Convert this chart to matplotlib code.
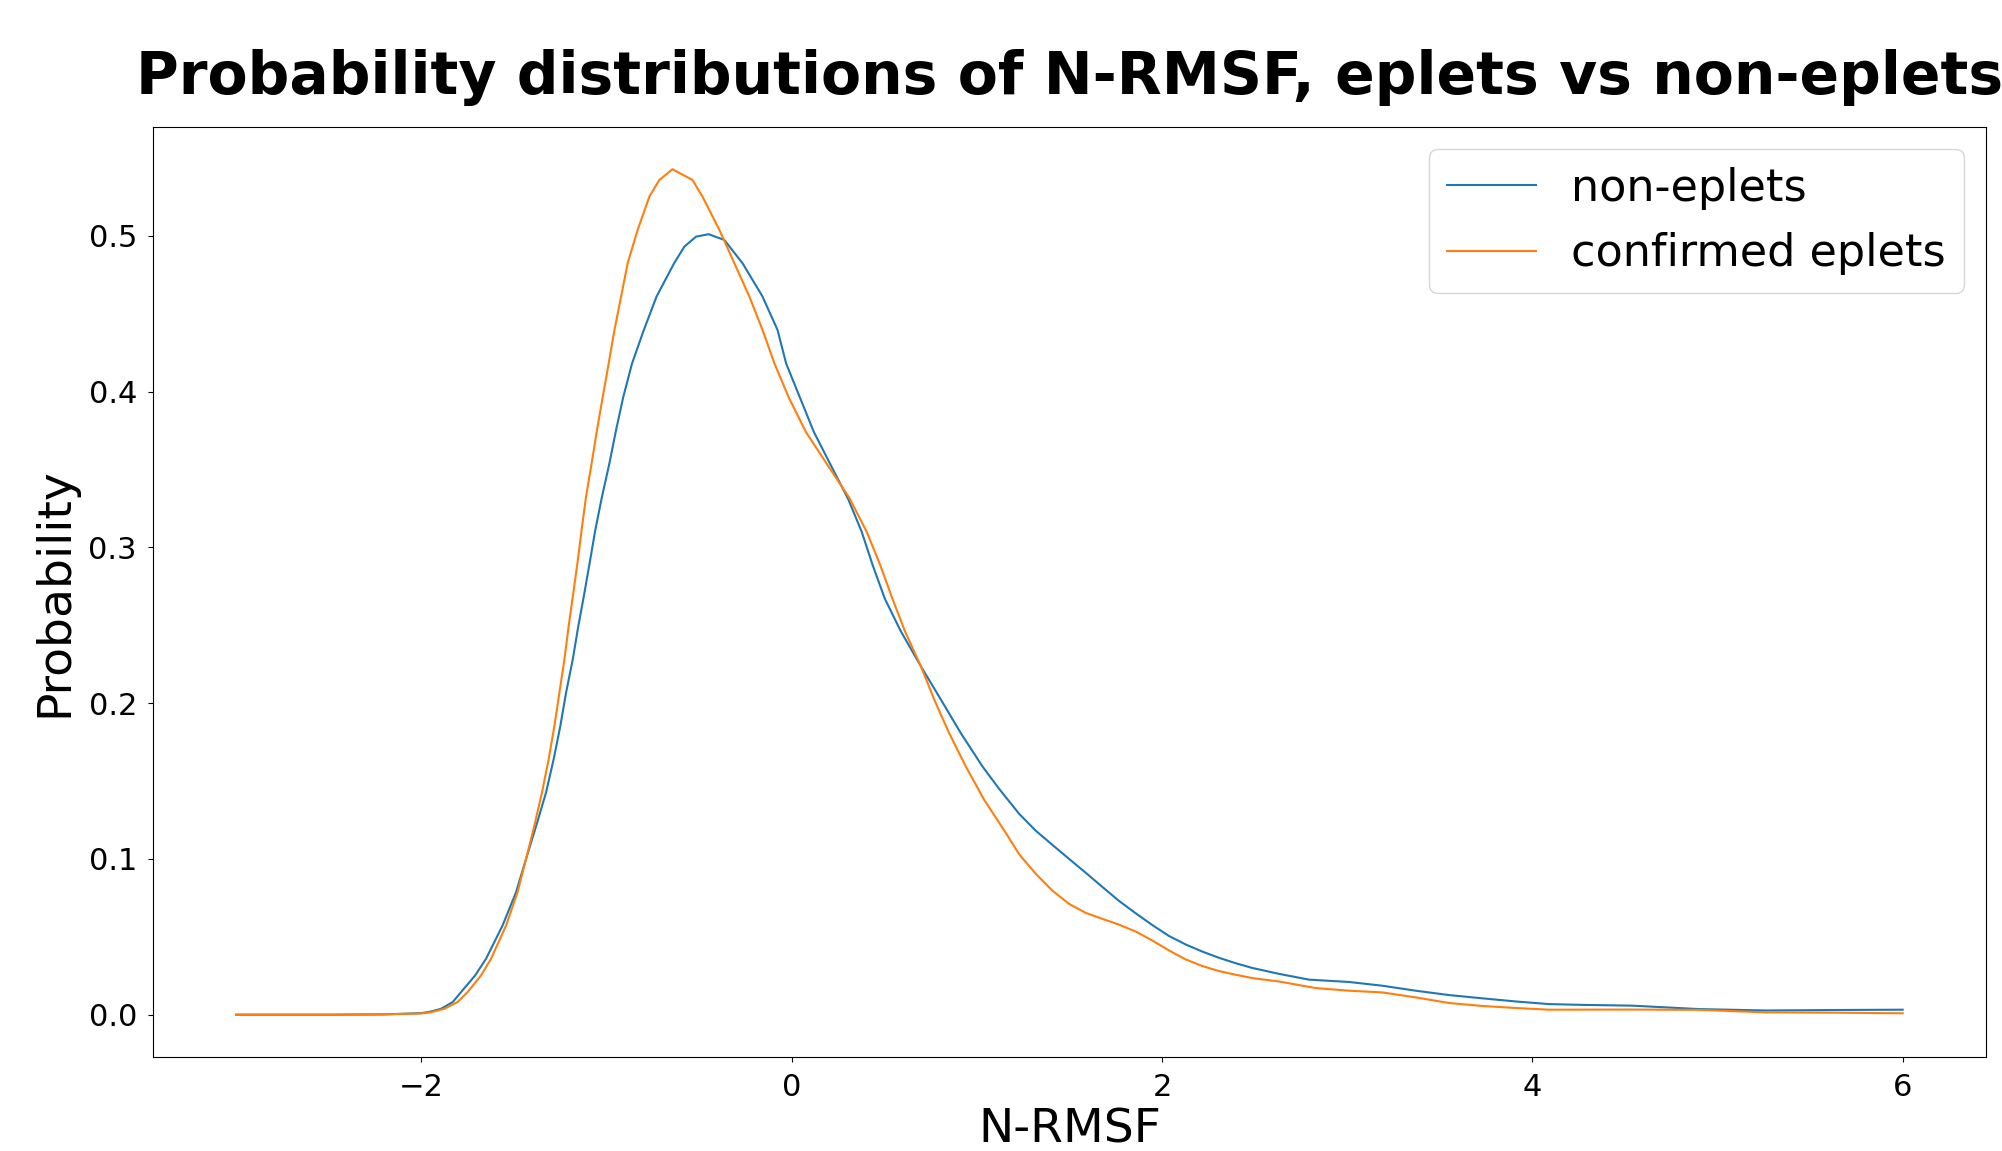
import matplotlib
matplotlib.use("Agg")
import matplotlib.pyplot as plt

# values
x_non = [-3.0, -2.5, -2.2, -2.0, -1.95, -1.894, -1.831, -1.786, -1.71, -1.651,
         -1.562, -1.489, -1.435, -1.38, -1.327, -1.286, -1.25, -1.219, -1.183, -1.153,
         -1.12, -1.09, -1.061, -1.025, -0.985, -0.949, -0.91, -0.863, -0.80, -0.73,
         -0.635, -0.58, -0.517, -0.449, -0.364, -0.266, -0.158, -0.077, -0.03, 0.045,
         0.12, 0.21, 0.305, 0.378, 0.436, 0.503, 0.59, 0.698, 0.806, 0.913,
         1.03, 1.12, 1.228, 1.319, 1.408, 1.498, 1.589, 1.678, 1.768, 1.859,
         1.948, 2.038, 2.129, 2.218, 2.308, 2.399, 2.488, 2.632, 2.794, 3.01,
         3.19, 3.37, 3.55, 3.73, 3.91, 4.09, 4.27, 4.54, 4.9, 5.26,
         5.62, 6.0]
y_non = [0.0, 0.0, 0.0002, 0.001, 0.002, 0.0038, 0.0081, 0.0145, 0.0252, 0.0359,
         0.0572, 0.0786, 0.1, 0.1213, 0.1426, 0.1639, 0.1852, 0.2066, 0.2279, 0.2492,
         0.2706, 0.291, 0.3111, 0.3325, 0.3538, 0.3752, 0.3965, 0.4179, 0.4392, 0.4611,
         0.4825, 0.4931, 0.4995, 0.5011, 0.4974, 0.4825, 0.4611, 0.4397, 0.418, 0.396,
         0.374, 0.353, 0.331, 0.31, 0.289, 0.267, 0.246, 0.2236, 0.2022, 0.1808,
         0.1594, 0.145, 0.129, 0.118, 0.109, 0.1, 0.091, 0.082, 0.073, 0.065,
         0.0575, 0.0505, 0.045, 0.0405, 0.0365, 0.033, 0.03, 0.0262, 0.0225, 0.021,
         0.0186, 0.0154, 0.0126, 0.0105, 0.0085, 0.0068, 0.0063, 0.0058, 0.0036, 0.0027,
         0.003, 0.0032]

x_conf = [-3.0, -2.5, -2.2, -2.0, -1.95, -1.876, -1.805, -1.751, -1.678, -1.624,
          -1.543, -1.481, -1.435, -1.39, -1.349, -1.313, -1.282, -1.255, -1.228, -1.205,
          -1.18, -1.155, -1.135, -1.111, -1.081, -1.052, -1.021, -0.989, -0.958, -0.886,
          -0.832, -0.769, -0.715, -0.644, -0.536, -0.482, -0.391, -0.31, -0.229, -0.158,
          -0.094, -0.015, 0.077, 0.193, 0.31, 0.405, 0.477, 0.544, 0.612, 0.698,
          0.77, 0.85, 0.94, 1.039, 1.157, 1.228, 1.319, 1.408, 1.498, 1.589,
          1.678, 1.768, 1.859, 1.948, 2.038, 2.129, 2.218, 2.308, 2.399, 2.488,
          2.632, 2.83, 3.01, 3.19, 3.37, 3.55, 3.73, 3.91, 4.09, 4.54,
          4.9, 5.26, 5.62, 6.0]
y_conf = [0.0, 0.0, 0.0002, 0.0008, 0.0015, 0.0038, 0.0081, 0.0145, 0.0252, 0.0359,
          0.0572, 0.0786, 0.1, 0.1213, 0.1426, 0.1639, 0.1852, 0.2066, 0.2279, 0.2492,
          0.2706, 0.292, 0.3111, 0.3325, 0.3538, 0.3752, 0.3965, 0.4179, 0.4392, 0.4825,
          0.5039, 0.5252, 0.5359, 0.5428, 0.5359, 0.5252, 0.5039, 0.4825, 0.4611, 0.4397,
          0.4183, 0.396, 0.374, 0.353, 0.332, 0.31, 0.289, 0.267, 0.246, 0.2236,
          0.2022, 0.1808, 0.1594, 0.138, 0.1166, 0.103, 0.0903, 0.0796, 0.0711, 0.0653,
          0.0615, 0.0578, 0.0533, 0.0476, 0.0412, 0.0354, 0.0312, 0.028, 0.0256, 0.0235,
          0.0213, 0.0171, 0.0154, 0.0143, 0.0111, 0.0075, 0.0056, 0.0043, 0.0032, 0.0033,
          0.0031, 0.0015, 0.0013, 0.0009]

fig = plt.figure(figsize=(20.02, 11.51), dpi=100)
ax = fig.add_axes([0.0764, 0.0817, 0.9156, 0.808])

ax.plot(x_non, y_non, color="#1f77b4", lw=1.5, label="non-eplets")
ax.plot(x_conf, y_conf, color="#ff7f0e", lw=1.5, label="confirmed eplets")

ax.set_title("Probability distributions of N-RMSF, eplets vs non-eplets",
             fontsize=42, fontweight="bold", pad=24)
ax.set_xlabel("N-RMSF", fontsize=34, labelpad=4)
ax.set_ylabel("Probability", fontsize=34, labelpad=8)
ax.tick_params(axis="both", labelsize=22, pad=8)
ax.legend(fontsize=32, loc="upper right")

fig.savefig("out.png", dpi=100)
